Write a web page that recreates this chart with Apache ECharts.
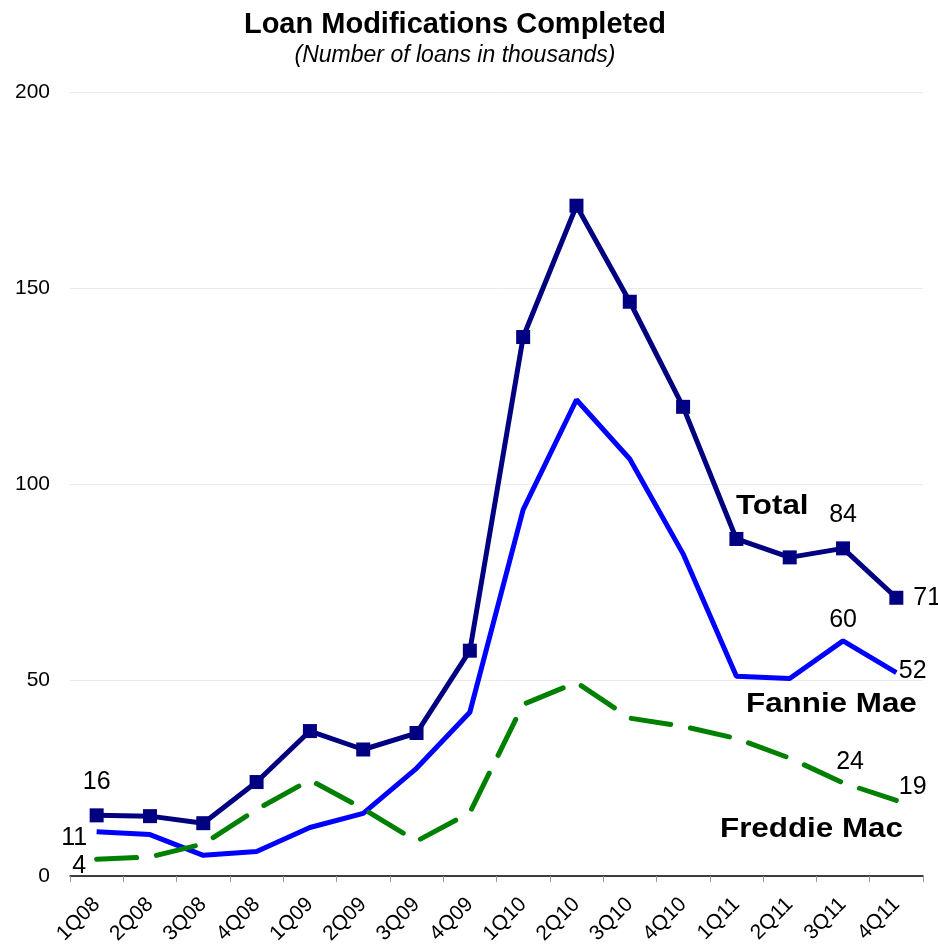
<!DOCTYPE html>
<html>
<head>
<meta charset="utf-8">
<title>Loan Modifications Completed</title>
<script src="https://cdn.jsdelivr.net/npm/echarts@6/dist/echarts.min.js"></script>
<style>
	html, body { margin: 0; padding: 0; background: #fff; }
	#main { width: 938px; height: 947px; }
</style>
</head>
<body>
<div id="main"></div>
<script>
	// quarters on the x axis
	var quarters = ['1Q08', '2Q08', '3Q08', '4Q08', '1Q09', '2Q09', '3Q09', '4Q09',
		'1Q10', '2Q10', '3Q10', '4Q10', '1Q11', '2Q11', '3Q11', '4Q11'];
	// thousands of loans
	var totalMods = [15.5, 15.3, 13.5, 24, 37, 32.3, 36.5, 57.5, 137.5, 171, 146.5, 119.7, 86, 81.3, 83.6, 71];
	var fannieMods = [11.3, 10.6, 5.3, 6.3, 12.4, 16, 27.5, 41.8, 93.5, 121.5, 106.4, 82.2, 51, 50.4, 60, 51.9];
	var freddieMods = [4.3, 4.9, 8.2, 17, 24.5, 17.2, 8.9, 16.2, 43.8, 49.4, 40.3, 38.2, 35.1, 30.1, 23.8, 19.3];
	var yTicks = [0, 50, 100, 150, 200];

	var labelFont = {
		color: '#000',
		fontFamily: 'Liberation Sans',
		fontSize: 25
	};

	// turn a value list into data items, with a label on the listed indices
	function withLabels(values, labels) {
		return values.map(function(v, i) {
			var item = { value: v };
			if (labels[i]) {
				item.label = Object.assign({ show: true, formatter: String(Math.round(v)) }, labelFont, labels[i]);
			}
			return item;
		});
	}

	// series name written next to its line
	function nameText(text, x, y) {
		return {
			type: 'text',
			left: x,
			top: y,
			scaleX: 1.12,
			style: { text: text, font: 'bold 28px "Liberation Sans"', fill: '#000' }
		};
	}

	var myChart = echarts.init(document.getElementById('main'));

	var option = {
		backgroundColor: '#fff',
		animation: false,
		title: {
			text: 'Loan Modifications Completed',
			subtext: '(Number of loans in thousands)',
			left: 450,
			top: 5,
			textAlign: 'center',
			itemGap: 5,
			textStyle: {
				fontFamily: 'Liberation Sans',
				fontWeight: 'bold',
				fontSize: 29,
				color: '#000'
			},
			subtextStyle: {
				fontFamily: 'Liberation Sans',
				fontStyle: 'italic',
				fontSize: 23,
				color: '#000'
			}
		},
		grid: {
			left: 70,
			right: 15,
			top: 92,
			bottom: 69
		},
		xAxis: {
			type: 'category',
			data: quarters,
			boundaryGap: true,
			axisLine: { lineStyle: { color: '#000', width: 1.5 } },
			axisTick: { show: true, length: 6, lineStyle: { color: '#999' } },
			axisLabel: {
				rotate: 45,
				margin: 25,
				color: '#000',
				fontFamily: 'Liberation Sans',
				fontSize: 21
			}
		},
		yAxis: {
			type: 'value',
			min: yTicks[0],
			max: yTicks[yTicks.length - 1],
			interval: 50,
			axisLine: { show: false },
			axisTick: { show: false },
			splitLine: { lineStyle: { color: '#ebebeb', width: 1 } },
			axisLabel: {
				margin: 20,
				color: '#000',
				fontFamily: 'Liberation Sans',
				fontSize: 21
			}
		},
		series: [{
			name: 'Fannie Mae',
			type: 'line',
			symbol: 'circle',
			symbolSize: 1,
			showSymbol: true,
			itemStyle: { color: 'rgba(0,0,0,0)' },
			z: 2,
			lineStyle: { color: '#0000ff', width: 5 },
			data: withLabels(fannieMods, {
				0: { position: 'left', distance: 9, offset: [0, 6] },
				14: { position: 'top', distance: 8 },
				15: { position: 'right', distance: 2, offset: [0, -2] }
			})
		}, {
			name: 'Freddie Mac',
			type: 'line',
			symbol: 'circle',
			symbolSize: 1,
			showSymbol: true,
			itemStyle: { color: 'rgba(0,0,0,0)' },
			z: 3,
			lineStyle: { color: '#008000', width: 5, type: [40, 20], cap: 'round' },
			data: withLabels(freddieMods, {
				0: { position: 'left', distance: 10, offset: [0, 7] },
				14: { position: 'top', distance: 8, offset: [7, 0] },
				15: { position: 'right', distance: 2, offset: [0, -13] }
			})
		}, {
			name: 'Total',
			type: 'line',
			symbol: 'rect',
			symbolSize: 14,
			z: 4,
			itemStyle: { color: '#000080' },
			lineStyle: { color: '#000080', width: 5 },
			data: withLabels(totalMods, {
				0: { position: 'top', distance: 14 },
				14: { position: 'top', distance: 14 },
				15: { position: 'right', distance: 10 }
			})
		}],
		graphic: [
			nameText('Total', 736, 492),
			nameText('Fannie Mae', 746, 690),
			nameText('Freddie Mac', 720, 815)
		]
	};

	myChart.setOption(option);
</script>
</body>
</html>
